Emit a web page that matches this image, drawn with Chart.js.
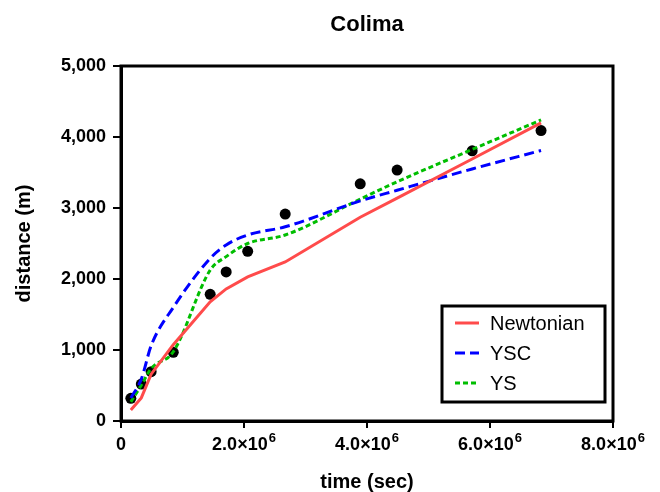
<!DOCTYPE html>
<html>
<head>
<meta charset="utf-8">
<script src="https://cdn.jsdelivr.net/npm/chart.js@4"></script>
<style>
  html, body { margin: 0; padding: 0; background: #fff; }
  #wrap { width: 660px; height: 492px; }
</style>
</head>
<body>
<div id="wrap"><canvas id="chart"></canvas></div>
<script>
// === Data (time in seconds, distance in metres) ===
const times = [0.16e6, 0.33e6, 0.49e6, 0.85e6, 1.45e6, 1.71e6, 2.06e6, 2.67e6, 3.89e6, 4.49e6, 5.71e6, 6.83e6];
const observed = [320, 520, 695, 967, 1785, 2100, 2390, 2915, 3340, 3535, 3805, 4090];
const newtonian = [155, 325, 660, 1075, 1680, 1860, 2030, 2240, 2870, 3140, 3690, 4200];
const ysc = [325, 590, 1060, 1600, 2290, 2480, 2620, 2735, 3100, 3250, 3550, 3810];
const ys = [270, 505, 740, 975, 2125, 2315, 2500, 2620, 3125, 3370, 3825, 4240];

const xTicks = [0, 2e6, 4e6, 6e6, 8e6];
const yTicks = [0, 1000, 2000, 3000, 4000, 5000];

const FONT = "'Liberation Sans', Arial, Helvetica, sans-serif";
const pts = arr => arr.map((v, i) => ({ x: times[i], y: v }));

// === Box around the plot, x labels with superscript, legend inside the plot ===
const framePlugin = {
  id: 'frame',
  afterDraw(chart) {
    const { ctx, chartArea: a } = chart;
    ctx.save();
    ctx.strokeStyle = '#000';
    ctx.lineWidth = 3;
    ctx.strokeRect(a.left, a.top, a.right - a.left, a.bottom - a.top);

    // x tick labels: "2.0×10" + raised exponent
    const xs = chart.scales.x;
    ctx.fillStyle = '#000';
    ctx.textBaseline = 'alphabetic';
    xs.ticks.forEach(t => {
      const px = xs.getPixelForValue(t.value);
      const base = t.value === 0 ? '0' : (t.value / 1e6).toFixed(1) + '×10';
      const sup = t.value === 0 ? '' : '6';
      ctx.font = 'bold 18px ' + FONT;
      const wb = ctx.measureText(base).width;
      ctx.font = 'bold 13px ' + FONT;
      const ws = sup ? ctx.measureText(sup).width + 1 : 0;
      const x0 = px - (wb + ws) / 2;
      ctx.font = 'bold 18px ' + FONT;
      ctx.textAlign = 'left';
      ctx.fillText(base, x0, a.bottom + 29);
      if (sup) {
        ctx.font = 'bold 13px ' + FONT;
        ctx.fillText(sup, x0 + wb + 1, a.bottom + 21);
      }
    });

    // legend box
    const items = chart.data.datasets.filter(d => d.inLegend);
    const bw = 163, bh = 96;
    const bx = a.right - 8 - bw, by = a.bottom - 19 - bh;
    ctx.fillStyle = '#fff';
    ctx.fillRect(bx, by, bw, bh);
    ctx.lineWidth = 3;
    ctx.strokeStyle = '#000';
    ctx.strokeRect(bx, by, bw, bh);
    ctx.font = '20px ' + FONT;
    ctx.textBaseline = 'middle';
    items.forEach((d, i) => {
      const y = by + 17 + i * 30;
      ctx.beginPath();
      ctx.strokeStyle = d.borderColor;
      ctx.lineWidth = 3;
      ctx.setLineDash(d.borderDash || []);
      ctx.moveTo(bx + 13, y);
      ctx.lineTo(bx + 37, y);
      ctx.stroke();
      ctx.setLineDash([]);
      ctx.fillStyle = '#000';
      ctx.fillText(d.label, bx + 48, y + 1);
    });
    ctx.restore();
  }
};

new Chart(document.getElementById('chart'), {
  type: 'scatter',
  data: {
    datasets: [
      {
        label: 'Newtonian',
        inLegend: true,
        data: pts(newtonian),
        showLine: true,
        borderColor: 'rgb(255,75,75)',
        borderWidth: 3,
        pointRadius: 0,
        tension: 0
      },
      {
        label: 'YSC',
        inLegend: true,
        data: pts(ysc),
        showLine: true,
        borderColor: 'rgb(0,0,255)',
        borderWidth: 3,
        borderDash: [10, 5],
        pointRadius: 0,
        cubicInterpolationMode: 'monotone'
      },
      {
        label: 'YS',
        inLegend: true,
        data: pts(ys),
        showLine: true,
        borderColor: 'rgb(0,190,0)',
        borderWidth: 3,
        borderDash: [5, 3],
        pointRadius: 0,
        cubicInterpolationMode: 'monotone'
      },
      {
        label: 'Observed',
        data: pts(observed),
        showLine: false,
        backgroundColor: '#000',
        borderColor: '#000',
        pointRadius: 5.5,
        pointBorderWidth: 0
      }
    ]
  },
  options: {
    responsive: true,
    maintainAspectRatio: false,
    animation: false,
    layout: { padding: { left: 0, right: 47, top: 0, bottom: 0 } },
    plugins: {
      legend: { display: false },
      tooltip: { enabled: false },
      title: {
        display: true,
        text: 'Colima',
        fullSize: false,
        color: '#000',
        font: { family: FONT, size: 22, weight: 'bold', lineHeight: 1.2 },
        padding: { top: 12, bottom: 27.6 }
      }
    },
    scales: {
      x: {
        type: 'linear',
        min: 0,
        max: 8e6,
        afterFit: s => { s.height = 71; },
        afterBuildTicks: s => { s.ticks = xTicks.map(v => ({ value: v })); },
        grid: { drawOnChartArea: false, drawTicks: true, tickLength: 7, color: '#000', lineWidth: 2 },
        border: { display: true, color: '#000', width: 3 },
        ticks: { display: false },
        title: {
          display: true,
          text: 'time (sec)',
          color: '#000',
          font: { family: FONT, size: 20, weight: 'bold', lineHeight: 1 },
          padding: { top: 0, bottom: 0 }
        }
      },
      y: {
        min: 0,
        max: 5000,
        afterFit: s => { s.width = 121; },
        afterBuildTicks: s => { s.ticks = yTicks.map(v => ({ value: v })); },
        grid: { drawOnChartArea: false, drawTicks: true, tickLength: 8, color: '#000', lineWidth: 2 },
        border: { display: true, color: '#000', width: 3 },
        ticks: {
          color: '#000',
          padding: 7,
          font: { family: FONT, size: 18, weight: 'bold' },
          callback: v => v.toLocaleString('en-US')
        },
        title: {
          display: true,
          text: 'distance (m)',
          color: '#000',
          font: { family: FONT, size: 20, weight: 'bold', lineHeight: 1.2 },
          padding: { top: 12, bottom: 0 }
        }
      }
    }
  },
  plugins: [framePlugin]
});
</script>
</body>
</html>
